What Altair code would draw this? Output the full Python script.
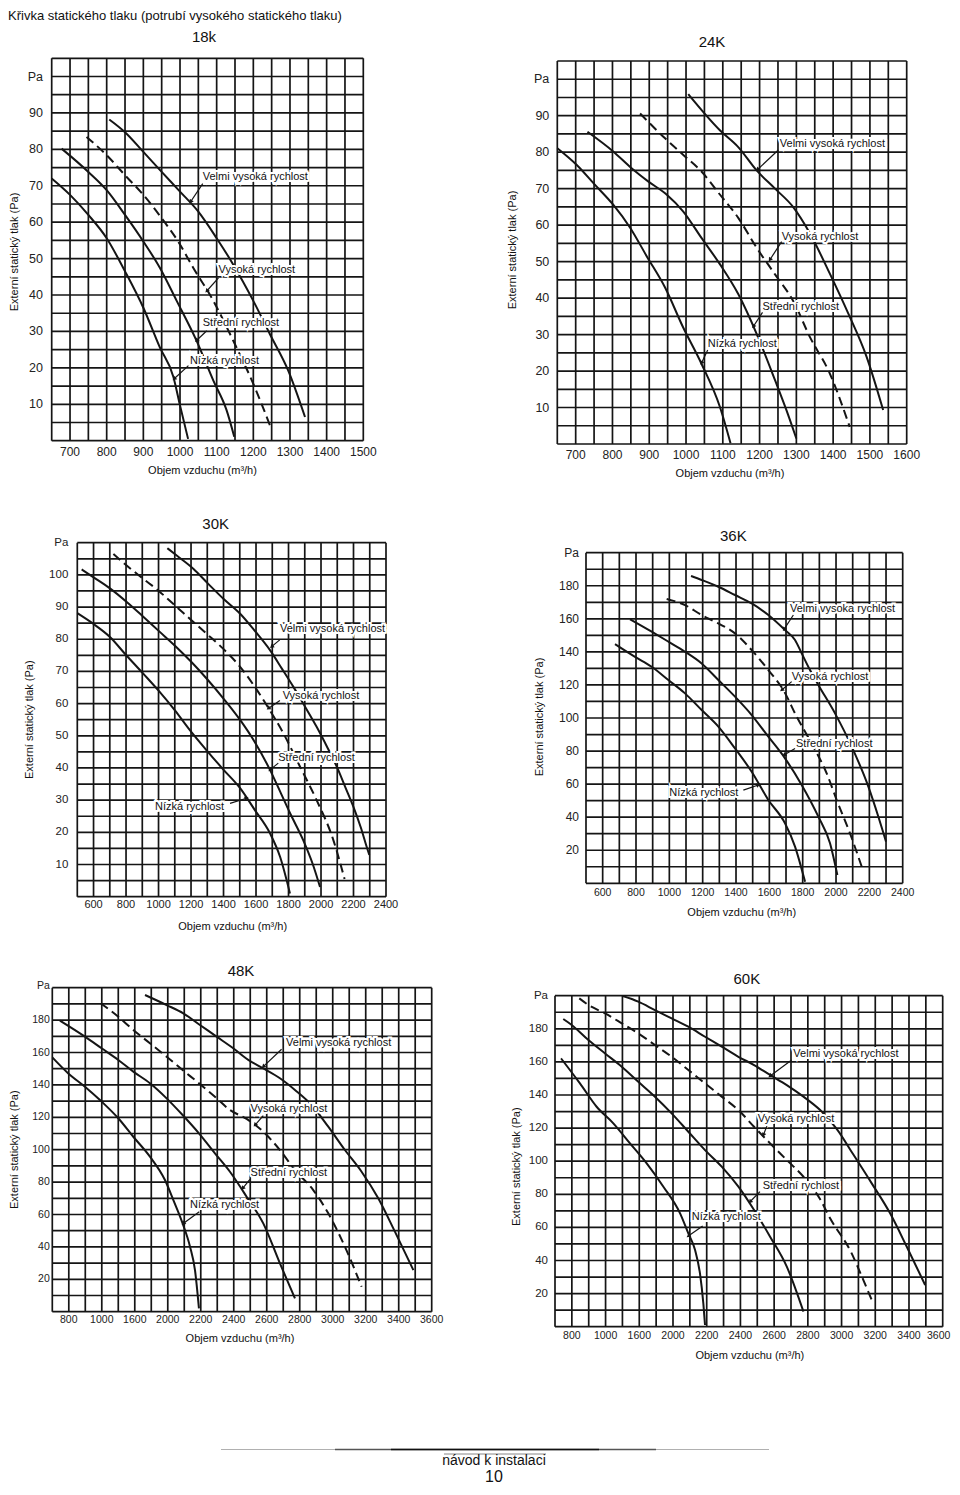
import math
import altair as alt
import pandas as pd

FONT = "Liberation Sans"
INK = "#151515"
SPEEDS = ["Nízká rychlost", "Střední rychlost", "Vysoká rychlost", "Velmi vysoká rychlost"]
X_TITLE = "Objem vzduchu (m³/h)"
Y_TITLE = "Externí statický tlak (Pa)"
MAIN_TITLE = "Křivka statického tlaku (potrubí vysokého statického tlaku)"
FOOTER_TEXT = "návod k instalaci"
PAGE_NUMBER = "10"

# ---------------- 18k ----------------
k18_low = [(650, 72), (700, 67.5), (750, 62), (800, 55.6), (850, 46.5), (900, 36.5), (945, 25.6),
           (982, 17.5), (1000, 9.7), (1022, 0.5)]
k18_mid = [(677, 80.2), (750, 73.8), (800, 68.8), (850, 62), (900, 54.7), (945, 47.5), (991, 38.4),
           (1045, 27.5), (1091, 16.5), (1127, 8.4), (1148, 1.1)]
k18_high = [(745, 83.4), (800, 78.4), (850, 72.9), (900, 67.5), (950, 61.1), (995, 54.7), (1036, 47.5),
            (1091, 38.4), (1145, 27.5), (1200, 15.6), (1247, 3.8)]
k18_vhigh = [(807, 88.2), (850, 84.7), (900, 79.3), (950, 73.8), (1000, 68.4), (1050, 62.9), (1100, 55.6),
             (1145, 48.4), (1200, 38.4), (1245, 29.3), (1295, 19.3), (1341, 6.5)]
k18_labels = SPEEDS
k18_label_xy = [(1027, 22), (1062, 32.2), (1105, 47), (1062, 72.3)]
k18_arrows = [(1023, 20.6, 984, 17), (1073, 30.2, 1045, 27.5), (1105, 44.7, 1073, 41.1), (1062, 70.6, 1029, 65.6)]
k18_xdom, k18_xstep = [650, 1500], 50
k18_ydom, k18_ystep = [0, 105], 5
k18_xticks = [700, 800, 900, 1000, 1100, 1200, 1300, 1400, 1500]
k18_xtick_text = ["700", "800", "900", "1000", "1100", "1200", "1300", "1400", "1500"]
k18_yticks = [10, 20, 30, 40, 50, 60, 70, 80, 90]
k18_pa = 100

# ---------------- 24K ----------------
k24_low = [(650, 81.1), (703, 76.5), (752, 71.1), (802, 65.6), (848, 59.3), (893, 51.5), (943, 42.9),
           (992, 32), (1042, 22), (1092, 10.2), (1121, 0.2)]
k24_mid = [(732, 85.6), (802, 80.2), (852, 75.6), (897, 72), (947, 68.4), (992, 63.8), (1042, 56.5),
           (1092, 49.3), (1142, 41.1), (1192, 30.2), (1242, 17.5), (1273, 9.3), (1300, 1.5)]
k24_high = [(875, 90.6), (943, 83.8), (992, 79.3), (1042, 74.7), (1092, 68.4), (1142, 62), (1192, 53.8),
            (1242, 46.5), (1291, 39.3), (1337, 29.3), (1391, 19.3), (1445, 4.7)]
k24_vhigh = [(1006, 95.9), (1092, 86), (1142, 81.4), (1192, 75), (1242, 70), (1291, 65), (1337, 57.7),
             (1391, 46.7), (1441, 35.8), (1491, 23.9), (1536, 9.3)]
k24_labels = SPEEDS
k24_label_xy = [(1059, 27.5), (1208, 37.6), (1260, 56.8), (1255, 82.2)]
k24_arrows = [(1059, 25.8, 1042, 22.2), (1208, 36.1, 1183, 32.2), (1260, 55.5, 1228, 50.5), (1251, 80.6, 1194, 75.2)]
k24_xdom, k24_xstep = [650, 1600], 50
k24_ydom, k24_ystep = [0, 105], 5
k24_xticks = [700, 800, 900, 1000, 1100, 1200, 1300, 1400, 1500, 1600]
k24_xtick_text = ["700", "800", "900", "1000", "1100", "1200", "1300", "1400", "1500", "1600"]
k24_yticks = [10, 20, 30, 40, 50, 60, 70, 80, 90]
k24_pa = 100

# ---------------- 30K ----------------
k30_low = [(500, 88.1), (598, 84.8), (701, 80.7), (793, 75.5), (906, 69.3), (999, 64.1), (1101, 57.9),
           (1194, 51.7), (1296, 45.5), (1399, 39.5), (1501, 33.8), (1593, 26.9), (1686, 19.7), (1748, 12.4),
           (1809, 1)]
k30_mid = [(527, 101.7), (598, 99.3), (701, 95.8), (806, 91.5), (906, 87), (1001, 82.6), (1101, 78),
           (1201, 73), (1301, 67.5), (1401, 61.5), (1501, 55), (1593, 48), (1686, 39.4), (1750, 32.5),
           (1809, 26), (1891, 17.5), (1950, 10), (1994, 3)]
k30_high = [(722, 106.5), (804, 102.9), (906, 98.8), (999, 95.1), (1101, 90.5), (1194, 86.3), (1296, 81.7),
            (1399, 77), (1501, 71.5), (1594, 65.1), (1666, 59.5), (1768, 50.8), (1871, 40.4), (1973, 30),
            (2076, 17.6), (2145, 5.5)]
k30_vhigh = [(1054, 108.3), (1112, 106), (1214, 101.9), (1306, 97.2), (1399, 92.6), (1501, 88), (1594, 82.5),
             (1686, 76.6), (1760, 70.8), (1830, 65.2), (1900, 59.2), (1973, 52.8), (2040, 46.3), (2097, 40.4),
             (2150, 34), (2199, 28), (2245, 21.5), (2281, 15.5), (2297, 13)]
k30_labels = SPEEDS
k30_label_xy = [(978, 27.8), (1737, 43), (1764, 62.4), (1747, 83.1)]
k30_arrows = [(1440, 29, 1542, 30.6), (1737, 41.5, 1686, 39.4), (1747, 61, 1676, 58.5), (1746, 79.8, 1696, 77.7)]
k30_xdom, k30_xstep = [500, 2400], 100
k30_ydom, k30_ystep = [0, 110], 5
k30_xticks = [600, 800, 1000, 1200, 1400, 1600, 1800, 2000, 2200, 2400]
k30_xtick_text = ["600", "800", "1000", "1200", "1400", "1600", "1800", "2000", "2200", "2400"]
k30_yticks = [10, 20, 30, 40, 50, 60, 70, 80, 90, 100]
k30_pa = 110

# ---------------- 36K ----------------
k36_low = [(674, 144.7), (794, 137), (894, 131), (994, 123), (1094, 114.9), (1194, 104.8), (1294, 94.8),
           (1394, 81.6), (1494, 67.5), (1594, 50.4), (1694, 36.3), (1754, 22.2), (1814, 1)]
k36_mid = [(764, 159.7), (894, 152.2), (994, 146.2), (1094, 140.1), (1194, 133), (1294, 123), (1394, 112.9),
           (1494, 101.8), (1594, 88.7), (1694, 75.6), (1794, 59.5), (1894, 40.3), (1964, 24.2), (2008, 5)]
k36_high = [(984, 172), (1094, 168.3), (1194, 162.3), (1294, 157.2), (1394, 151.2), (1494, 141.1), (1594, 129),
            (1684, 116.9), (1764, 100.8), (1864, 82.7), (1944, 66.5), (2004, 50.4), (2084, 30.2), (2154, 10.1)]
k36_vhigh = [(1130, 185.9), (1194, 183.5), (1294, 179.4), (1394, 174.4), (1494, 169.3), (1594, 162.3),
             (1694, 153.2), (1754, 147.2), (1794, 139.1), (1844, 129), (1894, 120), (1994, 102.8), (2094, 82.7),
             (2194, 58.5), (2254, 40.3), (2300, 25.2)]
k36_labels = ["Nízká rychlost", "Střední rychlost", "Vysoká rychlost", "Velmi vysoka rychlost"]
k36_label_xy = [(1000, 54.8), (1760, 84.3), (1734, 125), (1724, 165.7)]
k36_arrows = [(1444, 56.4, 1534, 59.5), (1754, 81.6, 1688, 77.6), (1734, 122, 1674, 116.9), (1744, 162.3, 1688, 153.6)]
k36_xdom, k36_xstep = [500, 2400], 100
k36_ydom, k36_ystep = [0, 200], 10
k36_xticks = [600, 800, 1000, 1200, 1400, 1600, 1800, 2000, 2200, 2400]
k36_xtick_text = ["600", "800", "1000", "1200", "1400", "1600", "1800", "2000", "2200", "2400"]
k36_yticks = [20, 40, 60, 80, 100, 120, 140, 160, 180]
k36_pa = 200

# ---------------- 48K ----------------
k48_low = [(1300, 157), (1397, 147.1), (1498, 138.9), (1599, 129.7), (1700, 119.4), (1791, 108), (1892, 95.7),
           (1983, 81.3), (2034, 68.9), (2090, 54.5), (2135, 40.1), (2165, 25.7), (2189, 2)]
k48_mid = [(1346, 179.7), (1498, 169.8), (1599, 162.6), (1700, 155.4), (1791, 148.2), (1892, 141), (1993, 131.7),
           (2090, 121.4), (2189, 110.1), (2286, 97.8), (2377, 86.4), (2478, 71), (2579, 54.5), (2680, 29.8),
           (2771, 8.2)]
k48_high = [(1593, 190.4), (1700, 182.1), (1791, 173.9), (1892, 165.7), (1993, 157.4), (2090, 149.2),
            (2189, 141), (2286, 132.7), (2377, 124.5), (2478, 119), (2579, 111.1), (2680, 99.8), (2771, 87.5),
            (2882, 75.1), (2973, 60.7), (3074, 40.1), (3175, 15.4)]
k48_vhigh = [(1862, 195.5), (1993, 189.3), (2094, 184.2), (2195, 177), (2296, 169.8), (2397, 162.6),
             (2488, 155.4), (2579, 150.2), (2680, 144.1), (2771, 136.9), (2872, 127.6), (2973, 114.2),
             (3074, 99.8), (3175, 86.4), (3276, 70), (3377, 49.4), (3489, 25.7)]
k48_labels = SPEEDS
k48_label_xy = [(2135, 65.9), (2502, 85.8), (2502, 125.3), (2717, 166)]
k48_arrows = [(2191, 61.7, 2094, 54.5), (2498, 81.7, 2454, 76.1), (2579, 121, 2529, 115.2), (2690, 162, 2579, 151.3)]
k48_xdom, k48_xstep = [1300, 3600], 100
k48_ydom, k48_ystep = [0, 200], 10
k48_xticks = [1400, 1600, 1800, 2000, 2200, 2400, 2600, 2800, 3000, 3200, 3400, 3600]
k48_xtick_text = ["800", "1000", "1600", "2000", "2200", "2400", "2600", "2800", "3000", "3200", "3400", "3600"]
k48_yticks = [20, 40, 60, 80, 100, 120, 140, 160, 180]
k48_pa = 201

# ---------------- 60K ----------------
k60_low = [(1336, 162.1), (1448, 147), (1547, 132.9), (1646, 122.9), (1745, 110.8), (1844, 98.7),
           (1943, 84.6), (2042, 68.5), (2091, 56.4), (2131, 46.3), (2160, 32.2), (2180, 14.1), (2190, 1)]
k60_mid = [(1349, 185.9), (1399, 182.3), (1498, 173.2), (1597, 165.1), (1696, 157.1), (1794, 148), (1893, 139),
           (1992, 128.9), (2091, 117.8), (2190, 106.7), (2289, 96.7), (2388, 84.6), (2481, 70.5), (2576, 54.4),
           (2675, 36.3), (2774, 9.1)]
k60_high = [(1444, 198.4), (1498, 194.4), (1597, 189.3), (1696, 183.3), (1794, 177.2), (1893, 170.2),
            (1992, 163.1), (2091, 155.1), (2190, 147), (2289, 139), (2388, 130.9), (2481, 120.8), (2576, 110.8),
            (2675, 100.7), (2774, 90.6), (2873, 77), (2932, 65.5), (3060, 44.3), (3104, 34.2), (3179, 16.1)]
k60_vhigh = [(1702, 199.8), (1794, 196.4), (1893, 191.3), (1992, 186.3), (2091, 181.3), (2190, 175.2),
             (2289, 169.2), (2388, 163.1), (2481, 158.1), (2576, 152.1), (2675, 146), (2774, 139), (2873, 130.9),
             (2971, 119.5), (3070, 104), (3179, 86.6), (3288, 68.5), (3387, 48.3), (3496, 25.2)]
k60_labels = SPEEDS
k60_label_xy = [(2111, 66.5), (2532, 85), (2503, 125.3), (2714, 164.5)]
k60_arrows = [(2176, 60.8, 2091, 54.8), (2516, 81.6, 2457, 75.5), (2557, 121.2, 2536, 115.8), (2704, 161.1, 2576, 151.5)]
k60_xdom, k60_xstep = [1300, 3600], 100
k60_ydom, k60_ystep = [0, 200], 10
k60_xticks = [1400, 1600, 1800, 2000, 2200, 2400, 2600, 2800, 3000, 3200, 3400, 3600]
k60_xtick_text = ["800", "1000", "1600", "2000", "2200", "2400", "2600", "2800", "3000", "3200", "3400", "3600"]
k60_yticks = [20, 40, 60, 80, 100, 120, 140, 160, 180]
k60_pa = 200

# ---------------- layout (page pixels) ----------------
MARGIN = 8
LAYOUT = {
    "18k": dict(left=51.7, right=363.3, bottom=440.7, top=58.3, title_dx=-3.5, title_dy=-21, xt_dy=11, xt_fs=12,
                yt_dx=-8.7, yt_fs=12.5, xtitle_dy=30, xtitle_dx=-5, ytitle_off=36.5, ytitle_dx=-2.5, last_dx=0),
    "24K": dict(left=557.3, right=906.7, bottom=444, top=61, title_dx=-20, title_dy=-19, xt_dy=11, xt_fs=12,
                yt_dx=-8, yt_fs=12.5, xtitle_dy=30, xtitle_dx=-2, ytitle_off=44.3, ytitle_dx=2.5, last_dx=0),
    "30K": dict(left=77.3, right=386, bottom=896.7, top=542.7, title_dx=-16, title_dy=-18.7, xt_dy=8.5, xt_fs=11,
                yt_dx=-9, yt_fs=11.5, xtitle_dy=30, xtitle_dx=1, ytitle_off=47, ytitle_dx=0, last_dx=0),
    "36K": dict(left=586, right=902.7, bottom=883.3, top=552.7, title_dx=-11, title_dy=-16.7, xt_dy=9.4,
                xt_fs=10.5, yt_dx=-7, yt_fs=12, xtitle_dy=29.4, xtitle_dx=-2.6, ytitle_off=46, ytitle_dx=1,
                last_dx=0),
    "48K": dict(left=52.3, right=431.7, bottom=1311.7, top=987.7, title_dx=-1, title_dy=-17, xt_dy=8.5,
                xt_fs=10.5, yt_dx=-2.5, yt_fs=10.5, xtitle_dy=27.6, xtitle_dx=-2, ytitle_off=37.5, ytitle_dx=0,
                last_dx=0),
    "60K": dict(left=555, right=942.7, bottom=1326.7, top=995.7, title_dx=-2, title_dy=-16.4, xt_dy=9.3,
                xt_fs=10.5, yt_dx=-7, yt_fs=11.5, xtitle_dy=29.3, xtitle_dx=1, ytitle_off=38.3, ytitle_dx=-5.5,
                last_dx=-4),
}


def frange(a, b, step):
    out, v = [], a
    while v <= b + 1e-9:
        out.append(v)
        v += step
    return out


def build_panel(name, series, labels, label_xy, arrows, xdom, xstep, ydom, ystep,
                xticks, xtick_text, yticks, pa):
    L = LAYOUT[name]
    X0, X1 = L["left"] - MARGIN, L["right"] - MARGIN
    YB, YT = L["bottom"] - MARGIN, L["top"] - MARGIN
    xs = alt.Scale(domain=xdom, range=[X0, X1], nice=False, zero=False)
    ys = alt.Scale(domain=ydom, range=[YB, YT], nice=False, zero=False)

    def X(f):
        return alt.X(f, type="quantitative", scale=xs, axis=None)

    def Y(f):
        return alt.Y(f, type="quantitative", scale=ys, axis=None)

    def px(x):
        return X0 + (x - xdom[0]) / (xdom[1] - xdom[0]) * (X1 - X0)

    def py(y):
        return YB + (y - ydom[0]) / (ydom[1] - ydom[0]) * (YT - YB)

    layers = []
    vg = pd.DataFrame({"x": frange(xdom[0], xdom[1], xstep)})
    vg["ya"], vg["yb"] = ydom[0], ydom[1]
    hg = pd.DataFrame({"y": frange(ydom[0], ydom[1], ystep)})
    hg["xa"], hg["xb"] = xdom[0], xdom[1]
    layers.append(alt.Chart(vg).mark_rule(color=INK, strokeWidth=1.7).encode(
        x=X("x"), y=Y("ya"), y2=alt.Y2("yb")))
    layers.append(alt.Chart(hg).mark_rule(color=INK, strokeWidth=1.7).encode(
        y=Y("y"), x=X("xa"), x2=alt.X2("xb")))

    rows = []
    for sname, pts in zip(SPEEDS, series):
        for i, (x, y) in enumerate(pts):
            rows.append({"series": sname, "x": x, "y": y, "i": i})
    cdf = pd.DataFrame(rows)
    solid = cdf[cdf["series"] != "Vysoká rychlost"]
    dashed = cdf[cdf["series"] == "Vysoká rychlost"]
    layers.append(alt.Chart(solid).mark_line(color=INK, strokeWidth=2, interpolate="monotone").encode(
        x=X("x"), y=Y("y"), detail="series:N", order="i:Q"))
    layers.append(alt.Chart(dashed).mark_line(color=INK, strokeWidth=2, interpolate="monotone",
                                              strokeDash=[9, 5]).encode(x=X("x"), y=Y("y"), order="i:Q"))

    ldf = pd.DataFrame({"text": labels, "x": [p[0] for p in label_xy], "y": [p[1] for p in label_xy]})
    layers.append(alt.Chart(ldf).mark_text(align="left", baseline="middle", font=FONT, fontSize=11,
                                           color="white", stroke="white", strokeWidth=4).encode(
        x=X("x"), y=Y("y"), text="text:N"))

    adf = pd.DataFrame(arrows, columns=["x1", "y1", "x2", "y2"])
    angs = []
    for _, r in adf.iterrows():
        dxp = px(r.x2) - px(r.x1)
        dyp = py(r.y2) - py(r.y1)
        angs.append(math.degrees(math.atan2(dxp, -dyp)) % 360)
    adf["ang"] = angs
    layers.append(alt.Chart(adf).mark_rule(color=INK, strokeWidth=1.2).encode(
        x=X("x1"), y=Y("y1"), x2=alt.X2("x2"), y2=alt.Y2("y2")))
    layers.append(alt.Chart(adf).mark_point(shape="triangle-up", filled=True, size=22, color=INK,
                                            opacity=1).encode(
        x=X("x2"), y=Y("y2"), angle=alt.Angle("ang:Q", scale=None)))

    layers.append(alt.Chart(ldf).mark_text(align="left", baseline="middle", font=FONT, fontSize=11,
                                           color="#111").encode(x=X("x"), y=Y("y"), text="text:N"))

    xt = pd.DataFrame({"x": xticks[:-1], "text": xtick_text[:-1]})
    xt["y"] = ydom[0]
    layers.append(alt.Chart(xt).mark_text(align="center", baseline="middle", font=FONT, fontSize=L["xt_fs"],
                                          dy=L["xt_dy"], color="#222").encode(x=X("x"), y=Y("y"), text="text:N"))
    xl = pd.DataFrame({"x": xticks[-1:], "text": xtick_text[-1:]})
    xl["y"] = ydom[0]
    layers.append(alt.Chart(xl).mark_text(align="center", baseline="middle", font=FONT, fontSize=L["xt_fs"],
                                          dy=L["xt_dy"], dx=L["last_dx"], color="#222").encode(
        x=X("x"), y=Y("y"), text="text:N"))
    yt = pd.DataFrame({"y": list(yticks) + [pa], "text": [str(v) for v in yticks] + ["Pa"]})
    yt["x"] = xdom[0]
    layers.append(alt.Chart(yt).mark_text(align="right", baseline="middle", font=FONT, fontSize=L["yt_fs"],
                                          dx=L["yt_dx"], color="#222").encode(x=X("x"), y=Y("y"), text="text:N"))

    xm = (xdom[0] + xdom[1]) / 2
    ym = (ydom[0] + ydom[1]) / 2
    tdf = pd.DataFrame({"x": [xm], "y": [ydom[1]], "text": [name]})
    layers.append(alt.Chart(tdf).mark_text(align="center", baseline="middle", font=FONT, fontSize=15,
                                           dx=L["title_dx"], dy=L["title_dy"], color="#111").encode(
        x=X("x"), y=Y("y"), text="text:N"))
    xtd = pd.DataFrame({"x": [xm], "y": [ydom[0]], "text": [X_TITLE]})
    layers.append(alt.Chart(xtd).mark_text(align="center", baseline="middle", font=FONT, fontSize=11,
                                           dx=L["xtitle_dx"], dy=L["xtitle_dy"], color="#111").encode(
        x=X("x"), y=Y("y"), text="text:N"))
    ytd = pd.DataFrame({"x": [xdom[0]], "y": [ym], "text": [Y_TITLE]})
    layers.append(alt.Chart(ytd).mark_text(align="center", baseline="middle", font=FONT, fontSize=11,
                                           angle=270, dx=L["ytitle_dx"], dy=-L["ytitle_off"],
                                           color="#111").encode(x=X("x"), y=Y("y"), text="text:N"))
    return alt.layer(*layers)


panels = [
    build_panel("18k", [k18_low, k18_mid, k18_high, k18_vhigh], k18_labels, k18_label_xy, k18_arrows,
                k18_xdom, k18_xstep, k18_ydom, k18_ystep, k18_xticks, k18_xtick_text, k18_yticks, k18_pa),
    build_panel("24K", [k24_low, k24_mid, k24_high, k24_vhigh], k24_labels, k24_label_xy, k24_arrows,
                k24_xdom, k24_xstep, k24_ydom, k24_ystep, k24_xticks, k24_xtick_text, k24_yticks, k24_pa),
    build_panel("30K", [k30_low, k30_mid, k30_high, k30_vhigh], k30_labels, k30_label_xy, k30_arrows,
                k30_xdom, k30_xstep, k30_ydom, k30_ystep, k30_xticks, k30_xtick_text, k30_yticks, k30_pa),
    build_panel("36K", [k36_low, k36_mid, k36_high, k36_vhigh], k36_labels, k36_label_xy, k36_arrows,
                k36_xdom, k36_xstep, k36_ydom, k36_ystep, k36_xticks, k36_xtick_text, k36_yticks, k36_pa),
    build_panel("48K", [k48_low, k48_mid, k48_high, k48_vhigh], k48_labels, k48_label_xy, k48_arrows,
                k48_xdom, k48_xstep, k48_ydom, k48_ystep, k48_xticks, k48_xtick_text, k48_yticks, k48_pa),
    build_panel("60K", [k60_low, k60_mid, k60_high, k60_vhigh], k60_labels, k60_label_xy, k60_arrows,
                k60_xdom, k60_xstep, k60_ydom, k60_ystep, k60_xticks, k60_xtick_text, k60_yticks, k60_pa),
]

# ---------------- page furniture ----------------
page_title = alt.Chart(pd.DataFrame({"t": [MAIN_TITLE]})).mark_text(
    align="left", baseline="middle", font=FONT, fontSize=13, color="#111").encode(
    x=alt.value(0), y=alt.value(8), text="t:N")
foot_rules = [
    alt.Chart(pd.DataFrame({"k": [0]})).mark_rule(color="#b0b0b0", strokeWidth=1).encode(
        x=alt.value(213), x2=alt.value(761), y=alt.value(1441.5)),
    alt.Chart(pd.DataFrame({"k": [0]})).mark_rule(color="#555555", strokeWidth=1.3).encode(
        x=alt.value(327), x2=alt.value(648), y=alt.value(1441.5)),
    alt.Chart(pd.DataFrame({"k": [0]})).mark_rule(color="#111111", strokeWidth=1.5).encode(
        x=alt.value(383), x2=alt.value(591), y=alt.value(1441.5)),
    alt.Chart(pd.DataFrame({"k": [0]})).mark_rule(color="#888888", strokeWidth=1).encode(
        x=alt.value(436), x2=alt.value(538), y=alt.value(1446)),
]
foot_text = alt.Chart(pd.DataFrame({"t": [FOOTER_TEXT]})).mark_text(
    align="center", baseline="middle", font=FONT, fontSize=14, color="#111").encode(
    x=alt.value(486), y=alt.value(1453), text="t:N")
page_no = alt.Chart(pd.DataFrame({"t": [PAGE_NUMBER]})).mark_text(
    align="center", baseline="middle", font=FONT, fontSize=16, color="#111").encode(
    x=alt.value(486), y=alt.value(1469), text="t:N")

chart = alt.layer(*panels, page_title, *foot_rules, foot_text, page_no).resolve_scale(
    x="independent", y="independent"
).properties(
    width=944, height=1479, autosize=alt.AutoSizeParams(type="none"), padding=0,
    background="white"
).configure_view(stroke=None)

chart.save("out.html", embed_options={"renderer": "svg", "actions": False})
